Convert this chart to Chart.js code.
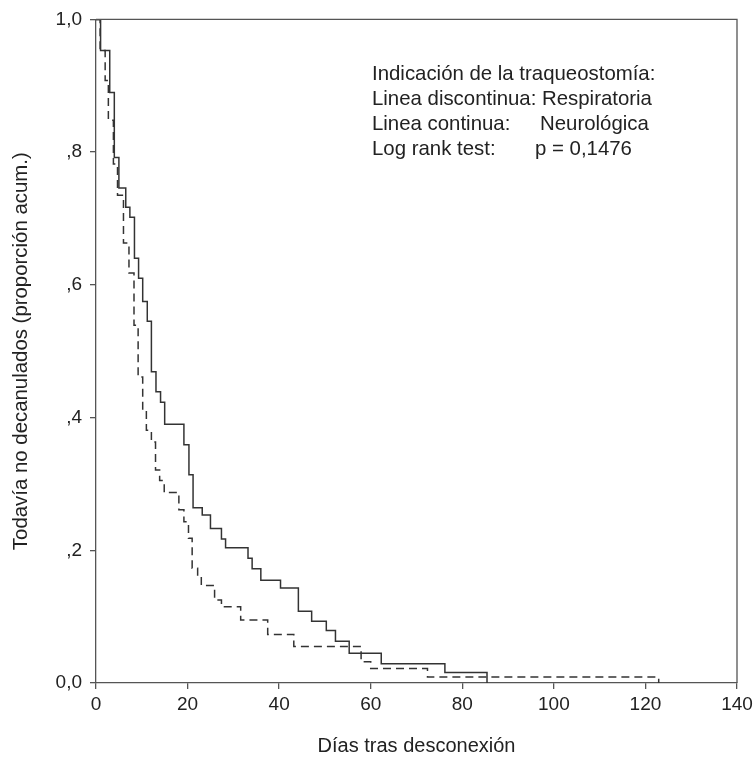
<!DOCTYPE html>
<html>
<head>
<meta charset="utf-8">
<script src="https://cdn.jsdelivr.net/npm/chart.js@4.4.1/dist/chart.umd.min.js"></script>
<style>
  body { margin: 0; background: #fff; }
  #wrap { width: 753px; height: 759px; }
</style>
</head>
<body>
<div id="wrap"><canvas id="kmChart" width="753" height="759"></canvas></div>
<script>
// Curva continua: indicación neurológica
const diasNeuro = [0, 1, 3, 4, 5, 6.5, 7.4, 8.4, 9.3, 10.2, 11.2, 12.1, 13.1, 14.1, 15, 19.2, 20.3, 21.2, 23.2, 25, 27.4, 28.3, 33.2, 34.1, 36, 40.3, 44.2, 47.1, 50.3, 52.3, 55.3, 62.3, 76.2, 85.4];
const propNeuro = [1, 0.953, 0.89, 0.792, 0.746, 0.717, 0.702, 0.64, 0.61, 0.575, 0.545, 0.469, 0.439, 0.423, 0.39, 0.359, 0.314, 0.264, 0.253, 0.233, 0.217, 0.204, 0.188, 0.172, 0.155, 0.143, 0.108, 0.093, 0.079, 0.063, 0.045, 0.029, 0.016, 0];

// Curva discontinua: indicación respiratoria
const diasResp = [0, 0.9, 2, 2.7, 3.8, 4.7, 6, 7.2, 8.3, 9.2, 10.2, 11, 12.1, 13, 13.9, 14.9, 18.1, 19.2, 20.2, 21, 22.2, 23, 25.9, 27.4, 31.6, 37.5, 43.2, 57.9, 60, 72.4, 122.9];
const propResp = [1, 0.953, 0.908, 0.848, 0.782, 0.735, 0.663, 0.618, 0.539, 0.461, 0.413, 0.381, 0.363, 0.321, 0.305, 0.287, 0.261, 0.243, 0.218, 0.173, 0.16, 0.147, 0.125, 0.115, 0.095, 0.073, 0.055, 0.032, 0.022, 0.009, 0];

// Etiquetas de los ejes
const ticksY = { 0: '0,0', 0.2: ',2', 0.4: ',4', 0.6: ',6', 0.8: ',8', 1: '1,0' };
const leyendaIzq = ['Indicación de la traqueostomía:', 'Linea discontinua:', 'Linea continua:', 'Log rank test:'];
const leyendaDer = ['', 'Respiratoria', 'Neurológica', 'p = 0,1476'];

const FONT = '"Liberation Sans", Arial, Helvetica, sans-serif';
const INK = '#333';

function puntos(xs, ys) {
    return xs.map((x, i) => ({ x: x, y: ys[i] }));
}

// Marco superior/derecho y texto de la leyenda
const marcoYTexto = {
    id: 'marcoYTexto',
    afterDraw(chart) {
        const { ctx, chartArea } = chart;
        ctx.save();
        ctx.strokeStyle = '#555';
        ctx.lineWidth = 1.3;
        ctx.beginPath();
        ctx.moveTo(chartArea.left, chartArea.top);
        ctx.lineTo(chartArea.right, chartArea.top);
        ctx.lineTo(chartArea.right, chartArea.bottom);
        ctx.stroke();

        ctx.fillStyle = '#222';
        ctx.font = '20.4px ' + FONT;
        ctx.textBaseline = 'middle';
        const colX = [0, 542, 540, 535];
        leyendaIzq.forEach((txt, i) => {
            const y = 74 + i * 25;
            ctx.fillText(txt, 372, y);
            if (leyendaDer[i]) ctx.fillText(leyendaDer[i], colX[i], y);
        });
        ctx.restore();
    }
};

new Chart(document.getElementById('kmChart'), {
    type: 'line',
    data: {
        datasets: [{
            label: 'Neurológica',
            data: puntos(diasNeuro, propNeuro),
            borderColor: INK,
            borderWidth: 1.5,
            stepped: 'before',
            pointRadius: 0,
            fill: false
        }, {
            label: 'Respiratoria',
            data: puntos(diasResp, propResp),
            borderColor: INK,
            borderWidth: 1.5,
            borderDash: [8, 5],
            stepped: 'before',
            pointRadius: 0,
            fill: false
        }]
    },
    options: {
        responsive: false,
        animation: false,
        devicePixelRatio: 1,
        layout: { padding: { top: 19, right: 16, bottom: 0, left: 0 } },
        plugins: { legend: { display: false }, tooltip: { enabled: false } },
        scales: {
            x: {
                type: 'linear',
                min: 0,
                max: 140,
                ticks: { stepSize: 20, color: '#222', font: { family: FONT, size: 19 }, padding: 4, maxRotation: 0 },
                grid: { drawOnChartArea: false, drawTicks: true, tickLength: 6, color: '#555', lineWidth: 1.3 },
                border: { display: true, color: '#555', width: 1.3 },
                title: { display: true, text: 'Días tras desconexión', color: '#222', font: { family: FONT, size: 20 }, padding: { top: 0, bottom: 1 } },
                afterFit(s) { s.height = 76; s.paddingLeft = 0; s.paddingRight = 0; }
            },
            y: {
                min: 0,
                max: 1,
                ticks: { stepSize: 0.2, color: '#222', font: { family: FONT, size: 19 }, padding: 8, callback: v => ticksY[Math.round(v * 10) / 10] },
                grid: { drawOnChartArea: false, drawTicks: true, tickLength: 6, color: '#555', lineWidth: 1.3 },
                border: { display: true, color: '#555', width: 1.3 },
                title: { display: true, text: 'Todavía no decanulados (proporción acum.)', color: '#222', font: { family: FONT, size: 20.4 }, padding: { top: 9, bottom: 0 } },
                afterFit(s) { s.width = 96; }
            }
        }
    },
    plugins: [marcoYTexto]
});
</script>
</body>
</html>
